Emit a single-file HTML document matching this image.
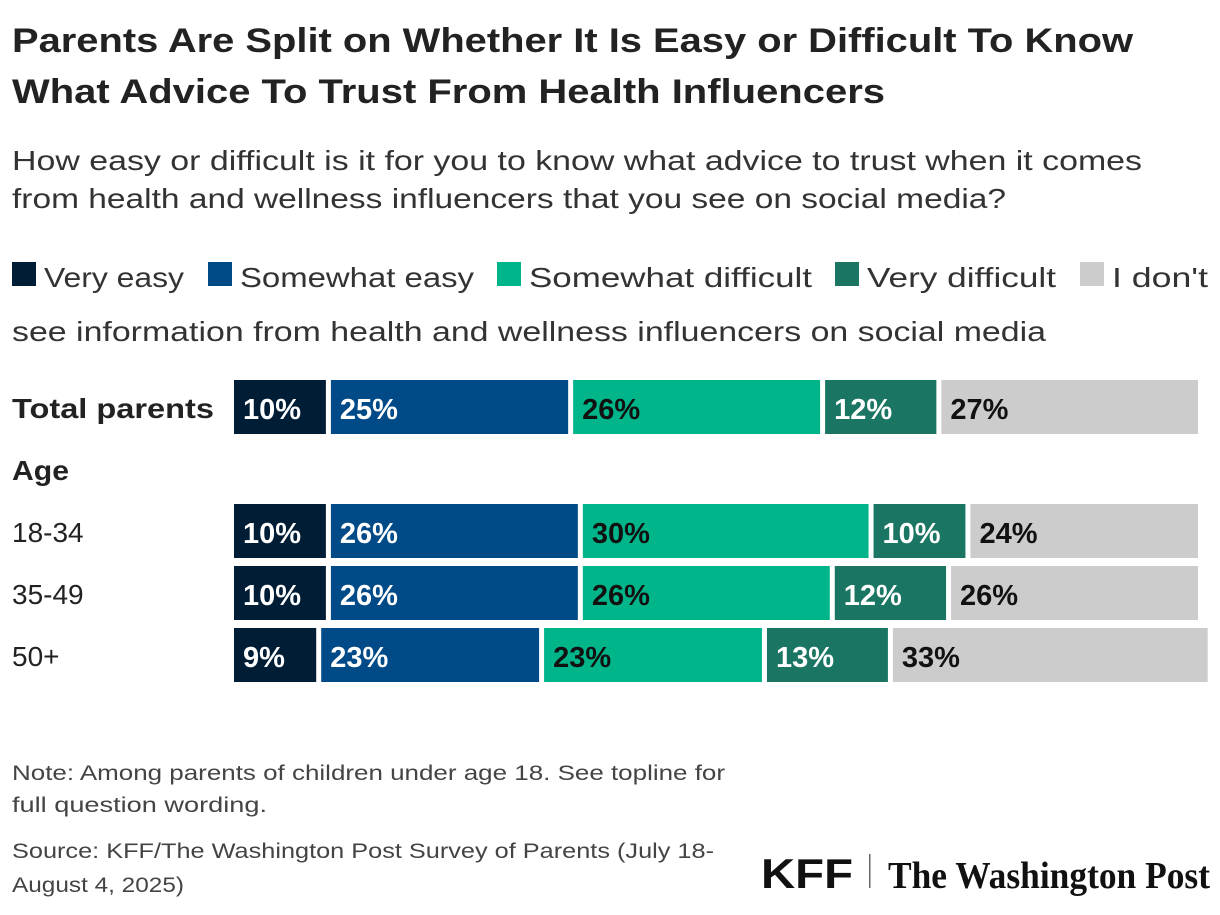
<!DOCTYPE html>
<html><head><meta charset="utf-8"><style>
body{margin:0;background:#fff}
svg text{font-family:"Liberation Sans",sans-serif}
</style></head><body>
<svg id="chart" width="1220" height="910" xmlns="http://www.w3.org/2000/svg">
<text x="12" y="52" font-size="34" font-weight="bold" fill="#222" textLength="1121" lengthAdjust="spacingAndGlyphs">Parents Are Split on Whether It Is Easy or Difficult To Know</text>
<text x="12" y="103" font-size="34" font-weight="bold" fill="#222" textLength="873" lengthAdjust="spacingAndGlyphs">What Advice To Trust From Health Influencers</text>
<text x="12" y="170" font-size="28" fill="#333" textLength="1130" lengthAdjust="spacingAndGlyphs">How easy or difficult is it for you to know what advice to trust when it comes</text>
<text x="12" y="208" font-size="28" fill="#333" textLength="994" lengthAdjust="spacingAndGlyphs">from health and wellness influencers that you see on social media?</text>
<g id="legend"></g>
<text x="12" y="341" font-size="28" fill="#333" textLength="1034" lengthAdjust="spacingAndGlyphs">see information from health and wellness influencers on social media</text>
<g id="bars"></g>
<text x="12" y="480" font-size="28" font-weight="bold" fill="#222" textLength="57" lengthAdjust="spacingAndGlyphs">Age</text>
<text x="12" y="780" font-size="21" fill="#444" textLength="713" lengthAdjust="spacingAndGlyphs">Note: Among parents of children under age 18. See topline for</text>
<text x="12" y="812" font-size="21" fill="#444" textLength="255" lengthAdjust="spacingAndGlyphs">full question wording.</text>
<text x="12" y="858" font-size="21" fill="#444" textLength="702" lengthAdjust="spacingAndGlyphs">Source: KFF/The Washington Post Survey of Parents (July 18-</text>
<text x="12" y="892" font-size="21" fill="#444" textLength="172" lengthAdjust="spacingAndGlyphs">August 4, 2025)</text>
<text x="761" y="888" font-size="42" font-weight="bold" fill="#111" textLength="92" lengthAdjust="spacingAndGlyphs">KFF</text>
<rect x="869" y="854" width="1.5" height="34" fill="#666"/>
<text x="888" y="888" font-size="38" font-weight="bold" fill="#111" style="font-family:'Liberation Serif',serif" textLength="322" lengthAdjust="spacingAndGlyphs">The Washington Post</text>
</svg>
<script>
const categories=["Total parents","18-34","35-49","50+"];
const seriesNames=["Very easy","Somewhat easy","Somewhat difficult","Very difficult","I don't"];
const veryEasy=[10,10,10,9];
const somewhatEasy=[25,26,26,23];
const somewhatDifficult=[26,30,26,23];
const veryDifficult=[12,10,12,13];
const dontSee=[27,24,26,33];
const series=[veryEasy,somewhatEasy,somewhatDifficult,veryDifficult,dontSee];
const colors=["#001d36","#004a87","#00b58a","#1b7563","#cccccc"];
const textColors=["#fff","#fff","#111","#fff","#111"];
const NS="http://www.w3.org/2000/svg";
const x0=234,scale=9.69,gap=5;
const xPos=v=>x0+v*scale;
const rowY=[380,504,566,628],barH=54;
const bars=document.getElementById('bars');
function mk(tag,attrs){const e=document.createElementNS(NS,tag);for(const k in attrs)e.setAttribute(k,attrs[k]);return e;}
categories.forEach((c,i)=>{
  const lab=mk('text',{x:12,y:rowY[i]+38,'font-size':28,fill:'#222','font-weight':i==0?'bold':'normal'});
  
  
  lab.textContent=c;
  if(i==0){lab.setAttribute('textLength',202);lab.setAttribute('lengthAdjust','spacingAndGlyphs');}
  bars.appendChild(lab);
  let cum=0;
  series.forEach((s,j)=>{
    const v=s[i];const xa=xPos(cum),xb=xPos(cum+v)-gap;
    const r=mk('rect',{x:xa,y:rowY[i],width:Math.max(0,xb-xa),height:barH,fill:colors[j]});
    
    
    bars.appendChild(r);
    const t=mk('text',{x:xa+9,y:rowY[i]+39,'font-size':29,'font-weight':'bold',fill:textColors[j]});
    
    
    t.textContent=v+'%';
    bars.appendChild(t);
    cum+=v;
  });
});
const legend=document.getElementById('legend');
const legX=[12,208,497,835,1080];
const legW=[140,234,283,189,96];
seriesNames.forEach((n,j)=>{
  const r=mk('rect',{x:legX[j],y:262,width:24,height:24,fill:colors[j]});
  
  
  legend.appendChild(r);
  const t=mk('text',{x:legX[j]+32,y:287,'font-size':28,fill:'#333',textLength:legW[j],lengthAdjust:'spacingAndGlyphs'});
  
  
  t.textContent=n;
  legend.appendChild(t);
});
</script>
</body></html>
